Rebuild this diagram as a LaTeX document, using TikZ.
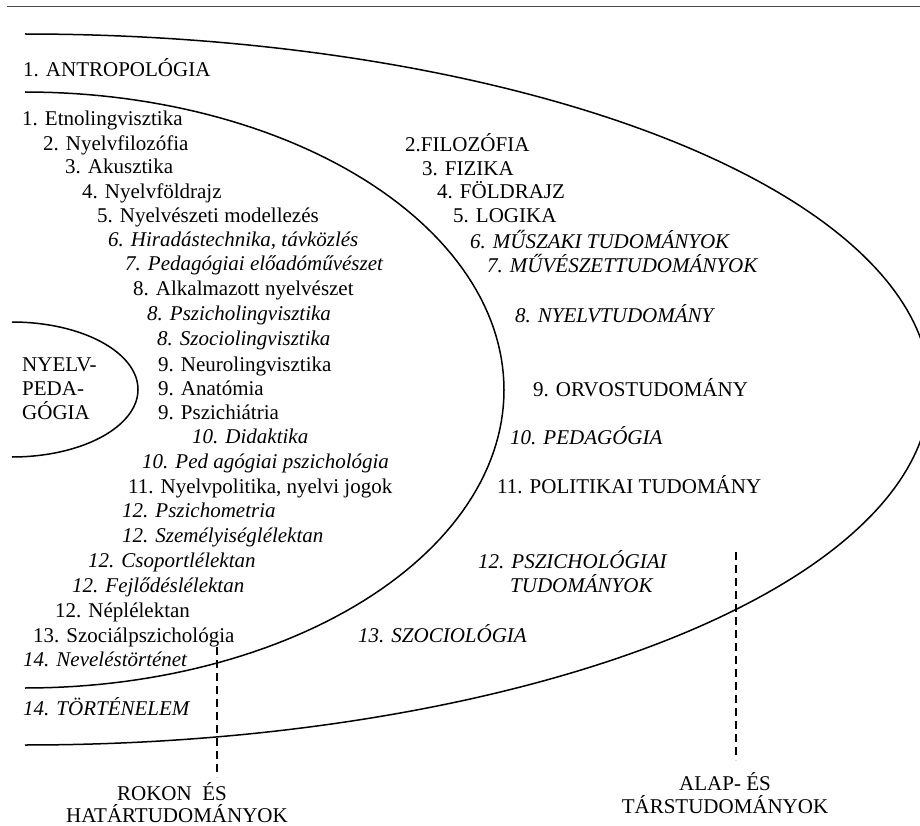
\documentclass[tikz,border=0pt]{standalone}
\usepackage{fontspec}
\setmainfont{Liberation Serif}
\begin{document}
\begin{tikzpicture}[x=1pt,y=-1pt,
  lbl/.style={anchor=base west, inner sep=0pt, font=\fontsize{21}{24}\selectfont},
  ilbl/.style={anchor=base west, inner sep=0pt, font=\fontsize{21}{24}\selectfont\itshape},
  clbl/.style={anchor=base, inner sep=0pt, font=\fontsize{21}{24}\selectfont},
  curve/.style={line width=1.5pt},
  divider/.style={line width=1.4pt, dash pattern=on 8pt off 5pt},
  rule/.style={line width=1pt, black!70}]
\useasboundingbox (0,0) rectangle (920,826);
\clip (0,0) rectangle (920,826);
% top rule
\coordinate (ruleL) at (7,7);
\coordinate (ruleR) at (920,7);
\draw[rule] (ruleL) -- (ruleR);
% curves
\draw[curve] plot[domain=-90:90, samples=181, variable=\t] ({25+905*cos(\t)}, {389.5+355.5*sin(\t)});
\draw[curve] plot[domain=-90:90, samples=121, variable=\t] ({25+479*cos(\t)}, {390+298*sin(\t)});
\draw[curve] plot[domain=-90:90, samples=81, variable=\t] ({12+126*cos(\t)}, {389.5+67.5*sin(\t)});
% outer ring
\node[lbl] (a1) at (23,77) {1. ANTROPOLÓGIA};
\node[ilbl] (a14) at (23,715) {14. TÖRTÉNELEM};
% inner ring list
\node[lbl]  (l1)  at (22,126)  {1. Etnolingvisztika};
\node[lbl]  (l2)  at (43,150.5)  {2. Nyelvfilozófia};
\node[lbl]  (l3)  at (65,174)  {3. Akusztika};
\node[lbl]  (l4)  at (82,198.3)  {4. Nyelvföldrajz};
\node[lbl]  (l5)  at (97,222.5)  {5. Nyelvészeti modellezés};
\node[ilbl] (l6)  at (108,246.5) {6. Hiradástechnika, távközlés};
\node[ilbl] (l7)  at (125,270.5) {7. Pedagógiai előadóművészet};
\node[lbl]  (l8)  at (133,295) {8. Alkalmazott nyelvészet};
\node[ilbl] (l9)  at (147,320) {8. Pszicholingvisztika};
\node[ilbl] (l10) at (157,345) {8. Szociolingvisztika};
\node[lbl]  (l11) at (158,371) {9. Neurolingvisztika};
\node[lbl]  (l12) at (158,395) {9. Anatómia};
\node[lbl]  (l13) at (158,419) {9. Pszichiátria};
\node[ilbl] (l14) at (192,443) {10. Didaktika};
\node[ilbl] (l15) at (142,468) {10. Ped agógiai pszichológia};
\node[lbl]  (l16) at (128,493) {11. Nyelvpolitika, nyelvi jogok};
\node[ilbl] (l17) at (122,517) {12. Pszichometria};
\node[ilbl] (l18) at (122,542) {12. Személyiséglélektan};
\node[ilbl] (l19) at (88,567)  {12. Csoportlélektan};
\node[ilbl] (l20) at (72,592)  {12. Fejlődéslélektan};
\node[lbl]  (l21) at (55,617)  {12. Néplélektan};
\node[lbl]  (l22) at (33,642)  {13. Szociálpszichológia};
\node[ilbl] (l23) at (23,666)  {14. Neveléstörténet};
% innermost
\node[lbl] (n1) at (22,371) {NYELV-};
\node[lbl] (n2) at (22,395) {PEDA-};
\node[lbl] (n3) at (22,419) {GÓGIA};
% outer list
\node[lbl]  (r2)  at (405,152) {2.FILOZÓFIA};
\node[lbl]  (r3)  at (422,175.5) {3. FIZIKA};
\node[lbl]  (r4)  at (437,199) {4. FÖLDRAJZ};
\node[lbl]  (r5)  at (453,223) {5. LOGIKA};
\node[ilbl] (r6)  at (470,248) {6. MŰSZAKI TUDOMÁNYOK};
\node[ilbl] (r7)  at (487,272) {7. MŰVÉSZETTUDOMÁNYOK};
\node[ilbl] (r8)  at (515,322) {8. NYELVTUDOMÁNY};
\node[lbl]  (r9)  at (533,396) {9. ORVOSTUDOMÁNY};
\node[ilbl] (r10) at (510,444) {10. PEDAGÓGIA};
\node[lbl]  (r11) at (497,493) {11. POLITIKAI TUDOMÁNY};
\node[ilbl] (r12a) at (478,568) {12. PSZICHOLÓGIAI};
\node[ilbl] (r12b) at (510,592) {TUDOMÁNYOK};
\node[ilbl] (r13) at (358,642) {13. SZOCIOLÓGIA};
% bottom labels
\node[clbl] (rk1) at (172,800) {ROKON\ \ ÉS};
\node[clbl] (rk2) at (177,822) {HATÁRTUDOMÁNYOK};
\node[clbl] (al1) at (725,790) {ALAP- ÉS};
\node[clbl] (al2) at (725,813) {TÁRSTUDOMÁNYOK};
% dividers
\coordinate (dlTop) at (217,647);
\coordinate (dlBot) at (217,777);
\coordinate (drTop) at (736,552);
\coordinate (drBot) at (736,760);
\draw[divider] (dlTop) -- (dlBot);
\draw[divider] (drTop) -- (drBot);
\end{tikzpicture}
\end{document}
